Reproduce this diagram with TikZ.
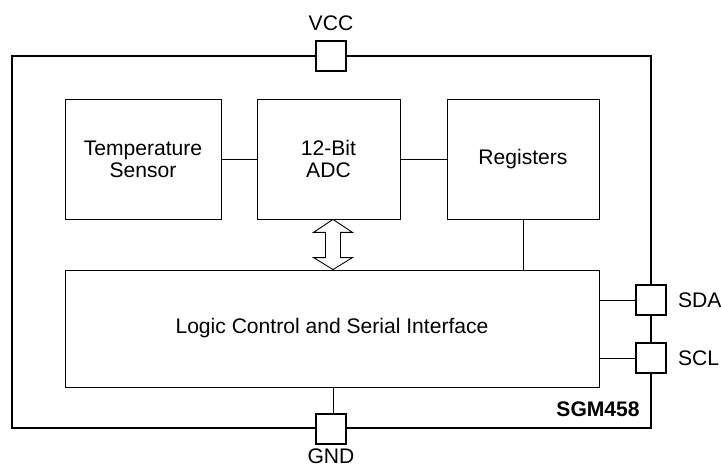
\documentclass[tikz,border=0pt]{standalone}
\usepackage{fontspec}
\setmainfont{Liberation Sans}
\usetikzlibrary{positioning, calc}

\begin{document}
\begin{tikzpicture}[
      x=0.02cm, y=-0.02cm,
      font=\fontsize{12}{12.5}\selectfont,
      % Styles
      chip/.style={
        rectangle, draw, line width=1pt,
        minimum width=12.78cm, minimum height=7.44cm, inner sep=0pt
      },
      block/.style={
        rectangle, draw, line width=0.5pt,
        minimum height=2.4cm, align=center, inner sep=0pt
      },
      pin/.style={
        rectangle, draw, fill=white, line width=0.6pt,
        minimum size=0.6cm, inner sep=0pt
      },
      wire/.style={
        draw, line width=0.5pt
      },
      bus_arrow/.style={
        draw, fill=white, line width=0.5pt, line join=miter
      }
    ]
    \useasboundingbox (0,0) rectangle (721,470);

    % --- 1. CHIP OUTLINE AND PINS ---
    \node[chip] (chip) at (331.5,242) {};

    \node[pin] (vcc) at (331,56) {};
    \node[pin] (gnd) at (331,429) {};
    \node[pin] (sda) at (651,300) {};
    \node[pin] (scl) at (651,358) {};

    \node[above=2pt of vcc] (vcc_lbl) {VCC};
    \node[below=0pt of gnd, inner sep=2pt] (gnd_lbl) {GND};
    \node[right=3pt of sda] (sda_lbl) {SDA};
    \node[right=3pt of scl] (scl_lbl) {SCL};
    \node[anchor=south east, inner sep=0pt, font=\fontsize{12}{12.5}\selectfont\bfseries] (part) at (640,417) {SGM458};

    % --- 2. BLOCKS ---
    \node[block, minimum width=3.12cm] (sensor) at (143,159) {Temperature\\Sensor};
    \node[block, minimum width=2.86cm] (adc) at (328.5,159) {12-Bit\\ADC};
    \node[block, minimum width=3.04cm] (regs) at (523,159) {Registers};
    \node[block, minimum width=10.68cm, minimum height=2.34cm] (logic) at (332,328.5) {Logic Control and Serial Interface};

    % --- 3. CONNECTIONS ---
    \draw[wire] (sensor) -- (adc);
    \draw[wire] (adc) -- (regs);
    \draw[wire] (regs.south) -- (regs.south |- logic.north);
    \draw[wire] (logic.east |- sda) -- (sda.west);
    \draw[wire] (logic.east |- scl) -- (scl.west);
    \draw[wire] (gnd.north -| 333,0) -- (logic.south -| 333,0);

    % Data bus between ADC and logic
    \coordinate (bus_top) at (adc.south -| 333,0);
    \coordinate (bus_bot) at (logic.north -| 333,0);
    \draw[bus_arrow] (bus_top) -- ++(19.5,13) -- ++(-12,0)
      -- ($(bus_bot)+(7.5,-12)$) -- ++(12,0) -- (bus_bot)
      -- ++(-19.5,-12) -- ++(12,0)
      -- ($(bus_top)+(-7.5,13)$) -- ++(-12,0) -- cycle;

\end{tikzpicture}
\end{document}
